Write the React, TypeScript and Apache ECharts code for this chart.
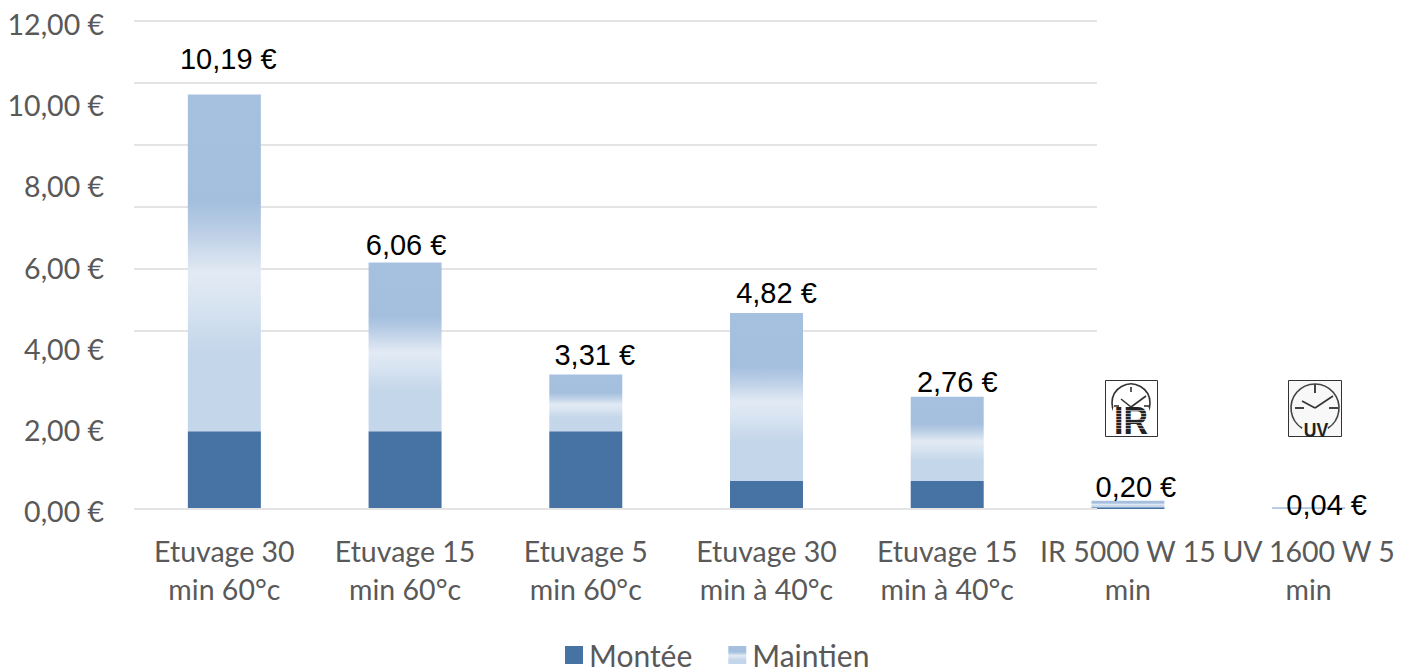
import React, { useEffect, useRef } from "react";
import * as echarts from "echarts";

const categories = [
  "Etuvage 30\nmin 60°c",
  "Etuvage 15\nmin 60°c",
  "Etuvage 5\nmin 60°c",
  "Etuvage 30\nmin à 40°c",
  "Etuvage 15\nmin à 40°c",
  "IR 5000 W 15\nmin",
  "UV 1600 W 5\nmin",
];
const montee = [1.91, 1.91, 1.91, 0.69, 0.69, 0.04, 0.01];
const maintien = [8.28, 4.15, 1.4, 4.13, 2.07, 0.16, 0.03];
const totals = [10.19, 6.06, 3.31, 4.82, 2.76, 0.2, 0.04];
const labelOffsets = [
  [4, -21],
  [1, -3],
  [9, -4],
  [10, -5],
  [10, 0],
  [8, 1],
  [18, 13],
];

const euro = (v: number) => v.toFixed(2).replace(".", ",") + " €";
const SANS = "Lato, Carlito, sans-serif";
const ARIAL = "'Liberation Sans', Arial, sans-serif";

const gradient = new echarts.graphic.LinearGradient(0, 0, 0, 1, [
  { offset: 0, color: "#a6c1df" },
  { offset: 0.32, color: "#a4bfde" },
  { offset: 0.4, color: "#b9cde5" },
  { offset: 0.53, color: "#e2eaf4" },
  { offset: 0.62, color: "#d8e4f1" },
  { offset: 0.76, color: "#c4d6ea" },
  { offset: 1, color: "#c4d6ea" },
]);

const ln = (x1: number, y1: number, x2: number, y2: number, c = "#333", w = 1.6) => ({
  type: "line",
  shape: { x1, y1, x2, y2 },
  style: { stroke: c, lineWidth: w },
  z: 10,
});

const irStripes = [410, 413, 416, 419, 422, 425, 428].map((y) => ({
  type: "rect",
  shape: { x: 1113, y, width: 36, height: 1 },
  style: { fill: "rgba(255,255,255,0.55)" },
  z: 12,
}));

const graphics: any[] = [
  ln(134, 509, 1097, 509, "#e4e4e4", 2),
  // IR icon
  { type: "rect", shape: { x: 1105.5, y: 380.5, width: 52, height: 56 }, style: { fill: "#fff", stroke: "#333", lineWidth: 1 }, z: 9 },
  { type: "circle", shape: { cx: 1131, cy: 403, r: 19 }, style: { fill: "none", stroke: "#333", lineWidth: 1.6 }, z: 10 },
  ln(1131, 387, 1131, 392),
  ln(1114, 406, 1119, 406),
  ln(1144, 406, 1149, 406),
  ln(1131, 407, 1121, 399),
  ln(1131, 407, 1146, 396),
  {
    type: "rect",
    shape: { x: 1113, y: 408, width: 36, height: 28 },
    style: { fill: "#fff" },
    z: 10,
  },
  {
    type: "text",
    x: 1131,
    y: 440,
    scaleX: 0.87,
    style: { text: "IR", fontFamily: ARIAL, fontWeight: "bold", fontSize: 39, fill: "#222", textAlign: "center", textVerticalAlign: "bottom" },
    z: 11,
  },
  ...irStripes,
  // UV icon
  { type: "rect", shape: { x: 1288.5, y: 380.5, width: 53, height: 56 }, style: { fill: "#f8f8f8", stroke: "#333", lineWidth: 1 }, z: 9 },
  {
    type: "arc",
    shape: { cx: 1315, cy: 408, r: 24, startAngle: Math.PI * 0.68, endAngle: Math.PI * 0.32, clockwise: true },
    style: { fill: "none", stroke: "#444", lineWidth: 1.6 },
    z: 10,
  },
  ln(1315, 384, 1315, 393, "#444", 2),
  ln(1295, 408, 1304, 408, "#444", 2),
  ln(1329, 408, 1338, 408, "#444", 2),
  ln(1315, 408, 1302, 401),
  ln(1315, 408, 1333, 396),
  {
    type: "text",
    x: 1316,
    y: 440,
    scaleX: 0.88,
    style: { text: "UV", fontFamily: ARIAL, fontWeight: "bold", fontSize: 20, fill: "#222", textAlign: "center", textVerticalAlign: "bottom" },
    z: 11,
  },
];

export default function App() {
  const ref = useRef<HTMLDivElement>(null);
  useEffect(() => {
    const chart = echarts.init(ref.current!, undefined, { renderer: "svg" });
    chart.setOption({
      animation: false,
      backgroundColor: "#fff",
      grid: [
        { left: 134, right: 9, top: 21, bottom: 159 },
        { left: 134, right: 311, top: 21, bottom: 337 },
        { left: 134, right: 311, top: 24, bottom: 157 },
      ],
      legend: {
        data: [
          { name: "Montée", icon: "rect" },
          { name: "Maintien", icon: "rect" },
        ],
        left: 565,
        top: 640,
        itemWidth: 18,
        itemHeight: 18,
        itemGap: 36,
        padding: 0,
        textStyle: { color: "#595959", fontFamily: SANS, fontSize: 30, lineHeight: 26, padding: [0, 0, 0, 1] },
      },
      xAxis: [
        {
          type: "category",
          gridIndex: 0,
          data: categories,
          axisLine: { show: false },
          axisTick: { show: false },
          axisLabel: {
            interval: 0,
            color: "#595959",
            fontFamily: SANS,
            fontSize: 28.5,
            lineHeight: 38,
            margin: 23,
          },
        },
        { type: "category", gridIndex: 1, data: [], show: false },
        { type: "category", gridIndex: 2, data: [], show: false },
      ],
      yAxis: [
        { type: "value", gridIndex: 0, min: 0, max: 12, show: false, splitLine: { show: false } },
        {
          type: "value",
          gridIndex: 1,
          min: 0,
          max: 5,
          interval: 1,
          axisLine: { show: false },
          axisTick: { show: false },
          axisLabel: { show: false },
          splitLine: { show: true, lineStyle: { color: "#e4e4e4", width: 2 } },
        },
        {
          type: "value",
          gridIndex: 2,
          min: 0,
          max: 12,
          interval: 2,
          axisLine: { show: false },
          axisTick: { show: false },
          splitLine: { show: false },
          axisLabel: {
            color: "#595959",
            fontFamily: SANS,
            fontSize: 28.5,
            margin: 30,
            formatter: (v: number) => euro(v),
          },
        },
      ],
      series: [
        {
          name: "Montée",
          type: "bar",
          stack: "t",
          barWidth: 73,
          data: montee,
          itemStyle: { color: "#4672a4" },
          z: 3,
        },
        {
          name: "Maintien",
          type: "bar",
          stack: "t",
          barWidth: 73,
          data: maintien,
          itemStyle: { color: gradient },
          z: 3,
        },
        {
          name: "Total",
          type: "line",
          data: totals.map((v, i) => ({
            value: v,
            label: { offset: labelOffsets[i] },
          })),
          symbol: "circle",
          symbolSize: 1,
          showSymbol: true,
          lineStyle: { color: "transparent", width: 0 },
          itemStyle: { color: "transparent" },
          z: 5,
          label: {
            show: true,
            position: "top",
            distance: 0,
            color: "#000",
            fontFamily: ARIAL,
            fontSize: 29,
            formatter: (p: any) => euro(p.value),
          },
        },
      ],
      graphic: graphics,
    });
    return () => chart.dispose();
  }, []);
  return <div ref={ref} style={{ position: "fixed", left: 0, top: 0, width: 1408, height: 668 }} />;
}
